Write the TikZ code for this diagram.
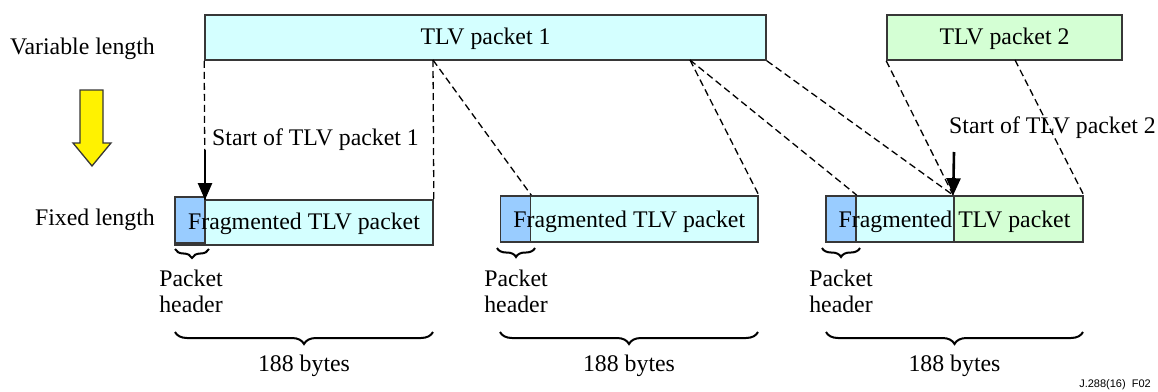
\documentclass[tikz,border=0pt]{standalone}
\usepackage{fontspec}
\setmainfont{Liberation Serif}
\newfontfamily\figsans{Liberation Sans}
\usetikzlibrary{arrows.meta,decorations.pathreplacing}
\definecolor{cyanfill}{RGB}{212,255,255}
\definecolor{hdrblue}{RGB}{153,204,255}
\definecolor{greenfill}{RGB}{212,255,212}
\definecolor{edge}{RGB}{55,55,55}
\tikzset{
  box/.style={draw=edge, line width=1.6pt, inner sep=0pt, minimum height=45pt},
  pkt/.style={box, fill=cyanfill},
  pkt2/.style={box, fill=greenfill},
  hdr/.style={box, fill=hdrblue, minimum width=30pt, minimum height=46pt},
  txt/.style={inner sep=0pt, font=\fontsize{23.8}{26}\selectfont, text height=16pt, text depth=5pt},
  ptxt/.style={inner sep=0pt, align=center, font=\fontsize{23.8}{26}\selectfont},
  map/.style={dashed, dash pattern=on 7pt off 4pt, line width=1.3pt, black},
  startarrow/.style={line width=2.6pt, -{Triangle[width=14pt,length=17pt]}},
  hbrace/.style={decorate, decoration={brace, mirror, amplitude=9pt}, line width=2pt},
  bbrace/.style={decorate, decoration={brace, mirror, amplitude=12pt}, line width=2pt},
}
\begin{document}
\begin{tikzpicture}[x=1pt,y=-1pt]
\useasboundingbox (0,0) rectangle (1158,391);

% variable length packets
\node[pkt, minimum width=561pt] (tlv1) at (485.5,37.5) {};
\node[txt] (tlv1t) at (485.5,39) {TLV packet 1};
\node[pkt2, minimum width=235pt] (tlv2) at (1004.5,37.5) {};
\node[txt] (tlv2t) at (1004.5,39) {TLV packet 2};

% row labels
\node[txt, anchor=east] (varl) at (155,49) {Variable length};
\node[txt, anchor=east] (fixl) at (155,220) {Fixed length};

% yellow arrow
\draw[fill=yellow, draw=edge, line width=1.3pt]
  (80,90) -- (103,90) -- (103,143) -- (111,143) -- (92,166) -- (73,143) -- (80,143) -- cycle;

% fixed packets
\node[pkt, minimum width=258pt] (f1) at (304,222.5) {};
\node[hdr] (h1) at (190,220) {};
\node[txt] (f1t) at (304,223.5) {Fragmented TLV packet};

\node[pkt, minimum width=257.5pt, minimum height=46pt] (f2) at (629.25,219) {};
\node[hdr] (h2) at (515.5,219) {};
\node[txt] (f2t) at (629.25,222) {Fragmented TLV packet};

\node[pkt, minimum width=257pt, minimum height=46pt] (f3) at (954.5,219) {};
\node[box, fill=greenfill, minimum width=129pt, minimum height=46pt] (f3g) at (1018.5,219) {};
\node[hdr] (h3) at (841,219) {};
\node[txt] (f3t) at (954.5,222) {Fragmented TLV packet};

% points on the bottom edge of TLV packets
\coordinate (c1) at (433,60);
\coordinate (c2) at (690,60);
\coordinate (c3) at (1015,60);
\coordinate (s1) at (205,200);

% mapping lines
\draw[map] (tlv1.south west) -- (s1);
\draw[map] (c1) -- (f1.north east);
\draw[map] (c1) -- (h2.north east);
\draw[map] (c2) -- (f2.north east);
\draw[map] (c2) -- (h3.north east);
\draw[map] (tlv1.south east) -- (f3g.north west);
\draw[map] (tlv2.south west) -- (f3g.north west);
\draw[map] (c3) -- (f3.north east);

% start arrows
\coordinate (a1) at (205,150);
\coordinate (a2) at (954,152);
\draw[startarrow] (a1) -- (s1);
\draw[startarrow] (a2) -- (f3g.north west);
\node[txt, anchor=west] (st1) at (212,140) {Start of TLV packet 1};
\node[txt, anchor=west] (st2) at (949,128) {Start of TLV packet 2};

% header braces
\coordinate (hb1a) at (175,249); \coordinate (hb1b) at (209,249);
\coordinate (hb2a) at (497,248); \coordinate (hb2b) at (535,248);
\coordinate (hb3a) at (822,248); \coordinate (hb3b) at (860,248);
\draw[hbrace] (hb1a) -- (hb1b);
\draw[hbrace] (hb2a) -- (hb2b);
\draw[hbrace] (hb3a) -- (hb3b);
\node[ptxt] (ph1) at (191,291) {Packet\\header};
\node[ptxt] (ph2) at (516,291) {Packet\\header};
\node[ptxt] (ph3) at (841,291) {Packet\\header};

% 188 bytes braces
\coordinate (bb1a) at (175,332); \coordinate (bb1b) at (433,332);
\coordinate (bb2a) at (500,332); \coordinate (bb2b) at (758,332);
\coordinate (bb3a) at (826,332); \coordinate (bb3b) at (1083,332);
\draw[bbrace] (bb1a) -- (bb1b);
\draw[bbrace] (bb2a) -- (bb2b);
\draw[bbrace] (bb3a) -- (bb3b);
\node[txt] (by1) at (304,366) {188 bytes};
\node[txt] (by2) at (629,366) {188 bytes};
\node[txt] (by3) at (954.5,366) {188 bytes};

% figure id
\node[inner sep=0pt, anchor=east, font=\figsans\fontsize{11}{12}\selectfont] (fid) at (1151,385) {J.288(16)\ \ F02};
\end{tikzpicture}
\end{document}
